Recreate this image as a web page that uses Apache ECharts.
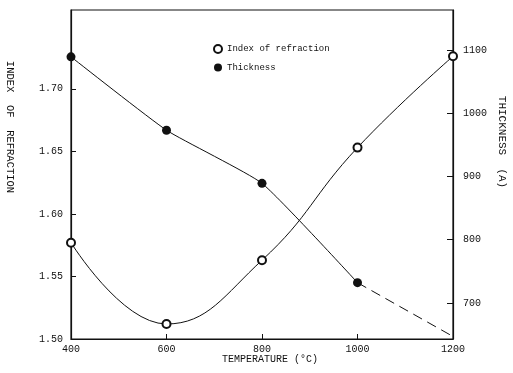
<!DOCTYPE html>
<html>
<head>
<meta charset="utf-8">
<script src="https://cdn.jsdelivr.net/npm/echarts@6/dist/echarts.min.js"></script>
<style>
html,body{margin:0;padding:0;background:#fff;}
#chart{width:513px;height:373px;}
</style>
</head>
<body>
<div id="chart"></div>
<script>
// Data
var temperatures = [400, 600, 800, 1000, 1200];
var indexOfRefraction = [1.577, 1.512, 1.563, 1.653, 1.726];
var thicknessTemps = [400, 600, 800, 1000];
var thickness = [1089, 973, 889, 732];
var thicknessExtTemps = [1000, 1200];
var thicknessExtrapolated = [732, 647];
var xTicks = [400, 600, 800, 1000, 1200];
var leftTicks = [1.50, 1.55, 1.60, 1.65, 1.70];
var rightTicks = [700, 800, 900, 1000, 1100];

var FONT = 'Liberation Mono';
var INK = '#111';

function pairs(xs, ys) { return xs.map(function (x, i) { return [x, ys[i]]; }); }

var chart = echarts.init(document.getElementById('chart'), null, {renderer: 'canvas'});
chart.setOption({
  backgroundColor: '#fff',
  animation: false,
  grid: {
    left: 71, right: 60, top: 10, bottom: 34,
    show: true, borderColor: INK, borderWidth: 1.2, backgroundColor: 'transparent'
  },
  legend: {
    orient: 'vertical', left: 213, top: 44, itemGap: 9, padding: 0,
    itemWidth: 8, itemHeight: 8,
    textStyle: {fontFamily: FONT, fontSize: 9, color: INK},
    data: [
      {name: 'Index of refraction', icon: 'emptyCircle'},
      {name: 'Thickness', icon: 'circle'}
    ]
  },
  xAxis: {
    type: 'value', min: 400, max: 1200, interval: 200,
    axisLine: {show: true, lineStyle: {color: INK, width: 1.2}},
    axisTick: {show: true, inside: true, length: 5, lineStyle: {color: INK}},
    axisLabel: {fontFamily: FONT, fontSize: 10, color: INK, margin: 5,
      customValues: xTicks, formatter: function (v) { return String(v); }},
    splitLine: {show: false}
  },
  yAxis: [
    {
      type: 'value', min: 1.50, max: 1.763, position: 'left',
      axisLine: {show: true, lineStyle: {color: INK, width: 1.2}},
      axisTick: {show: true, inside: true, length: 5, customValues: leftTicks, lineStyle: {color: INK}},
      axisLabel: {fontFamily: FONT, fontSize: 10, color: INK, margin: 8,
        customValues: leftTicks, formatter: function (v) { return v.toFixed(2); }},
      splitLine: {show: false}
    },
    {
      type: 'value', min: 643, max: 1163, position: 'right',
      axisLine: {show: true, lineStyle: {color: INK, width: 1.2}},
      axisTick: {show: true, inside: true, length: 6, customValues: rightTicks, lineStyle: {color: INK}},
      axisLabel: {fontFamily: FONT, fontSize: 10, color: INK, margin: 10,
        customValues: rightTicks, formatter: function (v) { return String(v); }},
      splitLine: {show: false}
    }
  ],
  graphic: [
    {type: 'text', x: 270, y: 359,
      style: {text: 'TEMPERATURE (°C)', fontFamily: FONT, fontSize: 10, fill: INK,
        align: 'center', verticalAlign: 'middle'}},
    {type: 'text', x: 10, y: 127, rotation: -Math.PI / 2,
      style: {text: 'INDEX  OF  REFRACTION', fontFamily: FONT, fontSize: 10.5, fill: INK,
        align: 'center', verticalAlign: 'middle'}},
    {type: 'text', x: 502, y: 142, rotation: -Math.PI / 2,
      style: {text: 'THICKNESS  (A)', fontFamily: FONT, fontSize: 11, fill: INK,
        align: 'center', verticalAlign: 'middle'}}
  ],
  series: [
    {
      name: 'Index of refraction', type: 'line', yAxisIndex: 0,
      data: pairs(temperatures, indexOfRefraction),
      smooth: 0.45, symbol: 'emptyCircle', symbolSize: 8,
      lineStyle: {color: INK, width: 1},
      itemStyle: {color: INK, borderColor: INK, borderWidth: 1.3}
    },
    {
      name: 'Thickness', type: 'line', yAxisIndex: 1,
      data: pairs(thicknessTemps, thickness),
      smooth: 0.15, symbol: 'circle', symbolSize: 9,
      lineStyle: {color: INK, width: 1},
      itemStyle: {color: INK}
    },
    {
      name: 'Thickness (extrapolated)', type: 'line', yAxisIndex: 1,
      data: pairs(thicknessExtTemps, thicknessExtrapolated),
      symbol: 'none',
      lineStyle: {color: INK, width: 1, type: [10, 6]}
    }
  ]
});
</script>
</body>
</html>
